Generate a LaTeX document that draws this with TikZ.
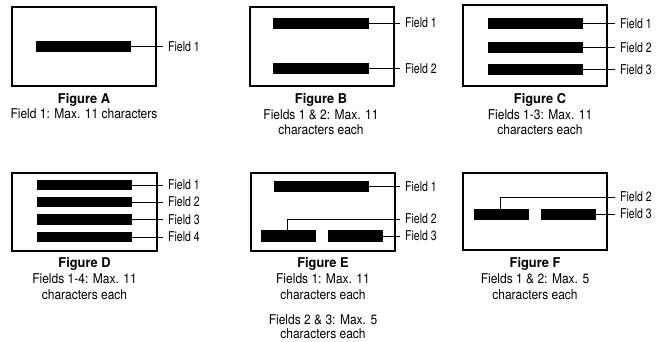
\documentclass[tikz,border=0pt]{standalone}
\usepackage{fontspec}
\setmainfont{TeX Gyre Heros}
\newfontfamily\labfont{TeX Gyre Heros}[FakeStretch=0.78]
\newfontfamily\capfont{TeX Gyre Heros}[FakeStretch=0.89]
\newfontfamily\titfont{TeX Gyre Heros}[FakeStretch=0.95]
\begin{document}
\begin{tikzpicture}[x=1pt,y=-1pt,
  frame/.style={draw=black, line width=1.4pt},
  bar/.style={fill=black, inner sep=0pt, outer sep=0pt, minimum height=11pt},
  lab/.style={font=\labfont\fontsize{13.5}{15}\selectfont, inner xsep=5pt, inner ysep=0pt, anchor=west},
  conn/.style={draw=black, line width=0.8pt},
  captitle/.style={font=\titfont\bfseries\fontsize{13.5}{15}\selectfont, inner sep=0pt, anchor=base},
  captext/.style={font=\capfont\fontsize{13.5}{15}\selectfont, inner sep=0pt, anchor=base}]
\useasboundingbox (0,0) rectangle (658,341);
% ---------- Figure A ----------
\draw[frame] (12,7) rectangle (156,86);
\node[bar, minimum width=95pt] (a1) at (83.5,46.5) {};
\node[lab] (la1) at (163,46.5) {Field 1};
\draw[conn] (a1.east) -- (la1.west);
\node[captitle] (ta) at (84,103.5) {Figure A};
\node[captext] (ca1) at (84,118.5) {Field 1: Max. 11 characters};
% ---------- Figure B ----------
\draw[frame] (250,7) rectangle (394,86);
\node[bar, minimum width=96pt] (b1) at (321,23) {};
\node[bar, minimum width=96pt] (b2) at (321,68.5) {};
\node[lab] (lb1) at (400,23) {Field 1};
\node[lab] (lb2) at (400,68.5) {Field 2};
\draw[conn] (b1.east) -- (lb1.west);
\draw[conn] (b2.east) -- (lb2.west);
\node[captitle] (tb) at (321,103.5) {Figure B};
\node[captext] (cb1) at (321,119) {Fields 1 \& 2: Max. 11};
\node[captext] (cb2) at (321,134.5) {characters each};
% ---------- Figure C ----------
\draw[frame] (463,5) rectangle (607,86);
\node[bar, minimum width=95pt] (c1) at (535.5,23.8) {};
\node[bar, minimum width=95pt] (c2) at (535.5,47.2) {};
\node[bar, minimum width=95pt] (c3) at (535.5,69.7) {};
\node[lab] (lc1) at (615,23.8) {Field 1};
\node[lab] (lc2) at (615,47.2) {Field 2};
\node[lab] (lc3) at (615,69.7) {Field 3};
\draw[conn] (c1.east) -- (lc1.west);
\draw[conn] (c2.east) -- (lc2.west);
\draw[conn] (c3.east) -- (lc3.west);
\node[captitle] (tc) at (540,103.5) {Figure C};
\node[captext] (cc1) at (540,119) {Fields 1-3: Max. 11};
\node[captext] (cc2) at (540,134.5) {characters each};
% ---------- Figure D ----------
\draw[frame] (12,173) rectangle (157,251);
\node[bar, minimum width=95pt, minimum height=10.5pt] (d1) at (84.5,185) {};
\node[bar, minimum width=95pt, minimum height=10.5pt] (d2) at (84.5,202) {};
\node[bar, minimum width=95pt, minimum height=10.5pt] (d3) at (84.5,219.7) {};
\node[bar, minimum width=95pt, minimum height=10.5pt] (d4) at (84.5,237) {};
\node[lab] (ld1) at (163,185) {Field 1};
\node[lab] (ld2) at (163,202) {Field 2};
\node[lab] (ld3) at (163,219.7) {Field 3};
\node[lab] (ld4) at (163,237) {Field 4};
\draw[conn] (d1.east) -- (ld1.west);
\draw[conn] (d2.east) -- (ld2.west);
\draw[conn] (d3.east) -- (ld3.west);
\draw[conn] (d4.east) -- (ld4.west);
\node[captitle] (td) at (84.5,267.5) {Figure D};
\node[captext] (cd1) at (84.5,283.5) {Fields 1-4: Max. 11};
\node[captext] (cd2) at (84.5,299) {characters each};
% ---------- Figure E ----------
\draw[frame] (251,173) rectangle (395,251);
\node[bar, minimum width=95pt, minimum height=11.5pt] (e1) at (321.5,186.5) {};
\node[bar, minimum width=55pt, minimum height=11.5pt] (e2) at (288.5,236) {};
\node[bar, minimum width=55pt, minimum height=11.5pt] (e3) at (355.5,236) {};
\node[lab] (le1) at (400,186.5) {Field 1};
\node[lab] (le2) at (400,219) {Field 2};
\node[lab] (le3) at (400,236) {Field 3};
\coordinate (ek) at (287,219);
\draw[conn] (e1.east) -- (le1.west);
\draw[conn] (e2.north -| ek) |- (le2.west);
\draw[conn] (e3.east) -- (le3.west);
\node[captitle] (te) at (323,267.5) {Figure E};
\node[captext] (ce1) at (323,283.5) {Fields 1: Max. 11};
\node[captext] (ce2) at (323,299) {characters each};
\node[captext] (ce3) at (323,324) {Fields 2 \& 3: Max. 5};
\node[captext] (ce4) at (323,338.5) {characters each};
% ---------- Figure F ----------
\draw[frame] (463,173) rectangle (607,250);
\node[bar, minimum width=55pt] (f1) at (501.5,214) {};
\node[bar, minimum width=55pt] (f2) at (568.5,214) {};
\node[lab] (lf2) at (615,197) {Field 2};
\node[lab] (lf3) at (615,214) {Field 3};
\coordinate (fk) at (500,197);
\draw[conn] (f1.north -| fk) |- (lf2.west);
\draw[conn] (f2.east) -- (lf3.west);
\node[captitle] (tf) at (535,267.5) {Figure F};
\node[captext] (cf1) at (535,283.5) {Fields 1 \& 2: Max. 5};
\node[captext] (cf2) at (535,299) {characters each};
\end{tikzpicture}
\end{document}
